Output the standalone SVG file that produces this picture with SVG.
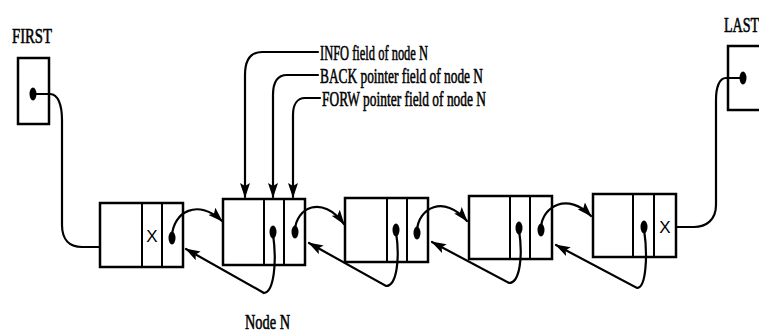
<svg xmlns="http://www.w3.org/2000/svg" width="759" height="334" viewBox="0 0 759 334">
<style>
.box{fill:#fff;stroke:#000;stroke-width:2.5}
.div{stroke:#000;stroke-width:2}
.ln{fill:none;stroke:#000;stroke-width:2.2;stroke-linecap:round}
.t{font-family:"Liberation Serif","Times New Roman",serif;font-size:22px;fill:#000;stroke:#000;stroke-width:0.6}
.x{font-family:"Liberation Sans",Arial,sans-serif;font-size:17px;fill:#000}
.dot{fill:#000}
</style>
<defs>
<marker id="ah" markerWidth="15" markerHeight="10" refX="14" refY="5" orient="auto" markerUnits="userSpaceOnUse">
<path d="M0,0 L15,5 L0,10 L3,5 Z" fill="#000"/>
</marker>
</defs>
<rect width="759" height="334" fill="#fff"/>

<g id="first">
<text class="t" x="12" y="43" textLength="40" lengthAdjust="spacingAndGlyphs">FIRST</text>
<rect class="box" x="18" y="58" width="31" height="66"/>
<ellipse class="dot" cx="33" cy="94" rx="3.5" ry="6.5"/>
</g>

<g id="last">
<text class="t" transform="translate(724,32) scale(0.64,1)" x="0" y="0">LAST</text>
<rect class="box" x="728" y="46" width="40" height="64"/>
<ellipse class="dot" cx="743" cy="78" rx="3.5" ry="6.5"/>
</g>

<g id="labels">
<text class="t" x="320" y="60" textLength="108" lengthAdjust="spacingAndGlyphs">INFO field of node N</text>
<text class="t" x="320" y="83" textLength="163" lengthAdjust="spacingAndGlyphs">BACK pointer field of node N</text>
<text class="t" x="322" y="106" textLength="164" lengthAdjust="spacingAndGlyphs">FORW pointer field of node N</text>
<text class="t" x="245" y="329" textLength="45" lengthAdjust="spacingAndGlyphs">Node N</text>
</g>

<g id="node1">
<rect class="box" x="100" y="203" width="83" height="64"/>
<line class="div" x1="142" y1="203" x2="142" y2="267"/>
<line class="div" x1="162" y1="203" x2="162" y2="267"/>
<text class="x" x="152" y="242" text-anchor="middle">X</text>
<ellipse class="dot" cx="172" cy="238" rx="3.5" ry="6.5"/>
</g>

<g id="node2">
<rect class="box" x="223" y="199" width="82" height="66"/>
<line class="div" x1="264" y1="199" x2="264" y2="265"/>
<line class="div" x1="284" y1="199" x2="284" y2="265"/>
<ellipse class="dot" cx="273" cy="232" rx="3.5" ry="6.5"/>
<ellipse class="dot" cx="295" cy="232" rx="3.5" ry="6.5"/>
</g>

<g id="node3">
<rect class="box" x="345" y="198" width="83" height="64"/>
<line class="div" x1="387" y1="198" x2="387" y2="262"/>
<line class="div" x1="407" y1="198" x2="407" y2="262"/>
<ellipse class="dot" cx="396" cy="230" rx="3.5" ry="6.5"/>
<ellipse class="dot" cx="417" cy="233" rx="3.5" ry="6.5"/>
</g>

<g id="node4">
<rect class="box" x="469" y="196" width="83" height="63"/>
<line class="div" x1="510" y1="196" x2="510" y2="259"/>
<line class="div" x1="530" y1="196" x2="530" y2="259"/>
<ellipse class="dot" cx="519" cy="228" rx="3.5" ry="6.5"/>
<ellipse class="dot" cx="541" cy="230" rx="3.5" ry="6.5"/>
</g>

<g id="node5">
<rect class="box" x="593" y="194" width="83" height="63"/>
<line class="div" x1="633" y1="194" x2="633" y2="257"/>
<line class="div" x1="654" y1="194" x2="654" y2="257"/>
<ellipse class="dot" cx="644" cy="227" rx="3.5" ry="6.5"/>
<text class="x" x="665" y="233" text-anchor="middle">X</text>
</g>

<g id="connectors">
<path class="ln" d="M33,94 L50,94 C58,94 62,105 62,120 L62,225 C62,240 70,247 82,247 L100,247"/>
<path class="ln" d="M743,78 L726,78 C719,78 716,88 716,100 L716,205 C716,220 706,227 694,227 L676,227"/>
<path class="ln" d="M318,52 L262,52 C250,52 245,60 245,75 L245,197" marker-end="url(#ah)"/>
<path class="ln" d="M318,75 L287,75 C278,75 273,82 273,95 L273,197" marker-end="url(#ah)"/>
<path class="ln" d="M320,98 L305,98 C297,98 293,105 293,115 L293,197" marker-end="url(#ah)"/>
<path class="ln" d="M172,236 C173,212 198,198 222,221" marker-end="url(#ah)"/>
<path class="ln" d="M295,230 C296,208 322,194 344,224" marker-end="url(#ah)"/>
<path class="ln" d="M417,231 C418,208 444,194 467,221" marker-end="url(#ah)"/>
<path class="ln" d="M541,228 C542,206 568,192 591,216" marker-end="url(#ah)"/>
<path class="ln" d="M273,234 C277,262 274,292 264,293 L186,249" marker-end="url(#ah)"/>
<path class="ln" d="M396,232 C400,258 397,286 386,286 L309,243" marker-end="url(#ah)"/>
<path class="ln" d="M519,230 C523,256 520,283 509,283 L432,242" marker-end="url(#ah)"/>
<path class="ln" d="M644,229 C648,256 646,288 637,288 L556,245" marker-end="url(#ah)"/>
</g>
</svg>
